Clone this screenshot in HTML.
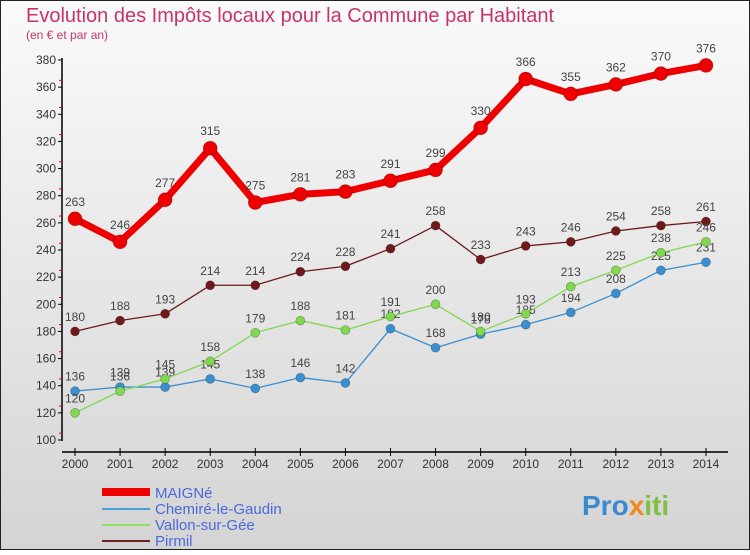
<!DOCTYPE html>
<html><head><meta charset="utf-8"><style>
body{margin:0;width:750px;height:550px;overflow:hidden;font-family:"Liberation Sans",sans-serif}
</style></head><body>
<svg width="750" height="550" viewBox="0 0 750 550">
<defs><linearGradient id="bg" x1="0" y1="0" x2="0" y2="1"><stop offset="0" stop-color="#fafafa"/><stop offset="1" stop-color="#d4d4d4"/></linearGradient></defs>
<rect x="0.5" y="0.5" width="749" height="549" fill="url(#bg)" stroke="#222"/>
<text x="26" y="22" font-size="20" fill="#c8336b">Evolution des Impôts locaux pour la Commune par Habitant</text>
<text x="26" y="39" font-size="12" fill="#c8336b">(en € et par an)</text>
<g id="axes"></g><g id="series"></g>
<g>
<line x1="102" y1="492" x2="150" y2="492" stroke="#ee0000" stroke-width="8"/>
<text x="155" y="498" font-size="15" fill="#4a6ad8">MAIGNé</text>
<line x1="102" y1="509" x2="150" y2="509" stroke="#4a9fd8" stroke-width="2"/>
<text x="155" y="514" font-size="15" fill="#4a6ad8">Chemiré-le-Gaudin</text>
<line x1="102" y1="525" x2="150" y2="525" stroke="#90e060" stroke-width="2"/>
<text x="155" y="530" font-size="15" fill="#4a6ad8">Vallon-sur-Gée</text>
<line x1="102" y1="541" x2="150" y2="541" stroke="#702020" stroke-width="2"/>
<text x="155" y="546" font-size="15" fill="#4a6ad8">Pirmil</text>
</g>
<text x="582" y="515" font-size="28" font-weight="bold" fill="#3a8ad0">Pro<tspan fill="#f08a20">x</tspan><tspan fill="#80c040">iti</tspan></text>
</svg>
<script>
const years=[2000,2001,2002,2003,2004,2005,2006,2007,2008,2009,2010,2011,2012,2013,2014];
const maigne=[263,246,277,315,275,281,283,291,299,330,366,355,362,370,376];
const chemire=[136,139,139,145,138,146,142,182,168,178,185,194,208,225,231];
const vallon=[120,136,145,158,179,188,181,191,200,180,193,213,225,238,246];
const pirmil=[180,188,193,214,214,224,228,241,258,233,243,246,254,258,261];
const yTicks=[100,120,140,160,180,200,220,240,260,280,300,320,340,360,380];
const NS="http://www.w3.org/2000/svg";
const X=i=>75+i*45.07, Y=v=>440-(v-100)*380/280;
function mk(t,a,p){const e=document.createElementNS(NS,t);for(const k in a)e.setAttribute(k,a[k]);p.appendChild(e);return e;}
const ax=document.getElementById('axes');
mk('line',{x1:62,y1:58,x2:62,y2:441,stroke:'#000','stroke-width':1.5},ax);
mk('line',{x1:62,y1:452,x2:728,y2:452,stroke:'#000','stroke-width':1.5},ax);
yTicks.forEach(v=>{const y=Y(v);
 mk('line',{x1:58,y1:y,x2:62,y2:y,stroke:'#000'},ax);
 if(v<380)mk('line',{x1:59,y1:y-6.8,x2:62,y2:y-6.8,stroke:'#e00'},ax);
 const t=mk('text',{x:56,y:y+4,'font-size':12,fill:'#333','text-anchor':'end'},ax);
 
 
 t.textContent=v;});
years.forEach((yr,i)=>{
 mk('line',{x1:X(i),y1:448,x2:X(i),y2:456,stroke:'#000'},ax);
 const t=mk('text',{x:X(i),y:468,'font-size':12,fill:'#333','text-anchor':'middle'},ax);
 
 
 t.textContent=yr;});
const sg=document.getElementById('series');
function draw(name,data,color,w,r,fs){
 const g=mk('g',{},sg);
 
 
 mk('polyline',{points:data.map((v,i)=>X(i)+','+Y(v)).join(' '),fill:'none',stroke:color,'stroke-width':w,'stroke-linejoin':'round'},g);
 data.forEach((v,i)=>{
  const c=mk('circle',{cx:X(i),cy:Y(v),r:r,fill:color,stroke:'rgba(0,0,0,0.3)','stroke-width':0.7},g);
  
  
  const t=mk('text',{x:X(i),y:Y(v)-r-6,'font-size':fs,fill:'#444','text-anchor':'middle'},g);
  
  
  t.textContent=v;});
}
draw('pirmil',pirmil,'#6e1a1a',1.3,4.5,12);
draw('chemire',chemire,'#3a8fd0',1.3,4.5,12);
draw('vallon',vallon,'#80d850',1.3,4.5,12);
draw('maigne',maigne,'#ee0000',7,7,12);
</script>
</body></html>
